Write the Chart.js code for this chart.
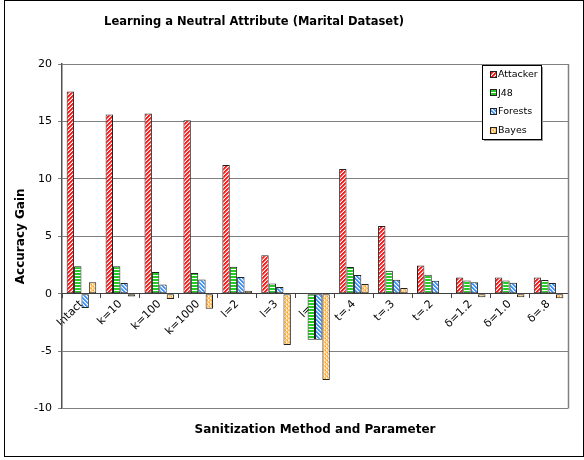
<!DOCTYPE html>
<html>
<head>
<meta charset="utf-8">
<script src="https://cdn.jsdelivr.net/npm/chart.js@4/dist/chart.umd.min.js"></script>
<style>
html,body{margin:0;padding:0;background:#fff;}
#wrap{width:584px;height:460px;position:relative;}
</style>
</head>
<body>
<div id="wrap"><canvas id="c" width="584" height="460"></canvas></div>
<script>
const chartTitle = 'Learning a Neutral Attribute (Marital Dataset)';
const xTitle = 'Sanitization Method and Parameter';
const yTitle = 'Accuracy Gain';
const categories = ['Intact','k=10','k=100','k=1000','l=2','l=3','l=4','t=.4','t=.3','t=.2','δ=1.2','δ=1.0','δ=.8'];
const seriesNames = ['Attacker','J48','Forests','Bayes'];
const attacker = [17.6, 15.6, 15.7, 15.1, 11.2, 3.35, 0, 10.85, 5.9, 2.45, 1.42, 1.42, 1.42];
const j48 = [2.4, 2.4, 1.9, 1.8, 2.35, 0.9, -4.0, 2.32, 2.0, 1.65, 1.16, 1.16, 1.2];
const forests = [-1.25, 0.93, 0.8, 1.25, 1.45, 0.58, -4.0, 1.63, 1.22, 1.13, 0.99, 0.96, 0.93];
const bayes = [1.0, -0.25, -0.45, -1.3, 0.25, -4.47, -7.5, 0.84, 0.5, -0.05, -0.3, -0.3, -0.4];
const yTicks = [-10, -5, 0, 5, 10, 15, 20];

function makeTile(w, h, draw) {
  const t = document.createElement('canvas');
  t.width = w; t.height = h;
  const g = t.getContext('2d');
  draw(g);
  return document.getElementById('c').getContext('2d').createPattern(t, 'repeat');
}
function px(g, x, y, c) { g.fillStyle = c; g.fillRect(x, y, 1, 1); }

const patAttacker = makeTile(4, 4, g => {
  g.fillStyle = '#ffffff'; g.fillRect(0, 0, 4, 4);
  for (let i = 0; i < 4; i++) {
    px(g, i, 3 - i, '#ff1a1a');
    px(g, (i + 1) % 4, 3 - i, '#ff1a1a');
    px(g, (i + 2) % 4, 3 - i, '#ff8080');
  }
});
const patJ48 = makeTile(2, 3, g => {
  g.fillStyle = '#22cc22'; g.fillRect(0, 0, 2, 2);
  g.fillStyle = '#ffffff'; g.fillRect(0, 2, 2, 1);
});
const patForests = makeTile(4, 4, g => {
  g.fillStyle = '#ffffff'; g.fillRect(0, 0, 4, 4);
  for (let i = 0; i < 4; i++) {
    px(g, i, i, '#3d95ff');
    px(g, (i + 1) % 4, i, '#3d95ff');
    px(g, (i + 2) % 4, i, '#a8d0ff');
  }
});
const patBayes = makeTile(4, 4, g => {
  g.fillStyle = '#ffc870'; g.fillRect(0, 0, 4, 4);
  px(g, 0, 0, '#ffffff'); px(g, 2, 2, '#ffffff');
  px(g, 1, 2, '#ff9920'); px(g, 3, 0, '#ff9920');
  px(g, 2, 1, '#ffe6c0'); px(g, 0, 3, '#ffe6c0');
});
const patterns = [patAttacker, patJ48, patForests, patBayes];
const seriesData = [attacker, j48, forests, bayes];

const frame = {
  id: 'frame',
  beforeDraw(chart) {
    const ctx = chart.ctx;
    ctx.save();
    ctx.fillStyle = '#fff';
    ctx.fillRect(0, 0, chart.width, chart.height);
    ctx.strokeStyle = '#000';
    ctx.lineWidth = 1;
    ctx.strokeRect(4.5, 0.5, 579, 456);
    ctx.restore();
  },
  afterDraw(chart) {
    const ctx = chart.ctx;
    const a = chart.chartArea;
    ctx.save();
    ctx.fillStyle = '#000';
    ctx.font = 'bold 11.5px "DejaVu Sans"';
    ctx.textAlign = 'center';
    ctx.textBaseline = 'middle';
    ctx.fillText(chartTitle, 254, 22);
    ctx.strokeStyle = '#808080';
    ctx.lineWidth = 1.5;
    ctx.beginPath();
    ctx.moveTo(Math.round(a.right) + 0.5, a.top);
    ctx.lineTo(Math.round(a.right) + 0.5, a.bottom);
    ctx.stroke();
    const lx = 482, ly = 65, lw = 59, lh = 74;
    ctx.fillStyle = '#999';
    ctx.fillRect(lx + 2, ly + 2, lw, lh);
    ctx.fillStyle = '#fff';
    ctx.fillRect(lx, ly, lw, lh);
    ctx.strokeStyle = '#000';
    ctx.lineWidth = 1;
    ctx.strokeRect(lx + 0.5, ly + 0.5, lw, lh);
    ctx.font = '9.5px "DejaVu Sans"';
    ctx.textBaseline = 'middle';
    ctx.textAlign = 'left';
    chart.data.datasets.forEach((ds, i) => {
      const cy = ly + 9.5 + i * 18.7;
      ctx.fillStyle = ds.backgroundColor;
      ctx.fillRect(lx + 8, Math.round(cy) - 3, 6, 6);
      ctx.strokeStyle = '#222';
      ctx.strokeRect(lx + 8.5, Math.round(cy) - 3.5, 6, 6);
      ctx.fillStyle = '#000';
      ctx.fillText(ds.label, lx + 16, cy);
    });
    ctx.restore();
  }
};

new Chart(document.getElementById('c'), {
  type: 'bar',
  data: {
    labels: categories,
    datasets: seriesNames.map((n, i) => ({
      label: n,
      data: seriesData[i],
      backgroundColor: patterns[i],
      borderColor: '#222222',
      borderWidth: 1,
      borderSkipped: false,
      barPercentage: 1.0,
      categoryPercentage: 0.76
    }))
  },
  options: {
    responsive: false,
    animation: false,
    devicePixelRatio: 1,
    layout: { padding: { left: 5, right: 16, top: 64, bottom: 0 } },
    plugins: {
      legend: { display: false },
      tooltip: { enabled: false },
      title: { display: false },
      subtitle: {
        display: true,
        position: 'bottom',
        fullSize: false,
        text: xTitle,
        color: '#000',
        font: { family: 'DejaVu Sans', size: 12, weight: 'bold' },
        padding: { top: 14, bottom: 23 }
      }
    },
    scales: {
      x: {
        type: 'category',
        position: { y: 0 },
        offset: true,
        grid: { display: true, drawOnChartArea: false, drawTicks: true, tickLength: 4, color: '#404040', offset: true },
        border: { display: true, color: '#404040', width: 1 },
        ticks: {
          color: '#000',
          font: { family: 'DejaVu Sans', size: 11 },
          maxRotation: 45, minRotation: 45,
          padding: 0,
          autoSkip: false
        }
      },
      y: {
        min: -10, max: 20,
        afterBuildTicks: (s) => { s.ticks = yTicks.map(v => ({ value: v })); },
        afterFit: (s) => { s.width = 57; },
        grid: { color: '#808080', lineWidth: 1, tickLength: 4, drawTicks: true },
        border: { display: true, color: '#505050', width: 1.5 },
        ticks: { color: '#000', font: { family: 'DejaVu Sans', size: 11 }, padding: 6 },
        title: {
          display: true,
          text: yTitle,
          color: '#000',
          font: { family: 'DejaVu Sans', size: 12, weight: 'bold' },
          padding: { top: 9, bottom: 0 }
        }
      }
    }
  },
  plugins: [frame]
});
</script>
</body>
</html>
